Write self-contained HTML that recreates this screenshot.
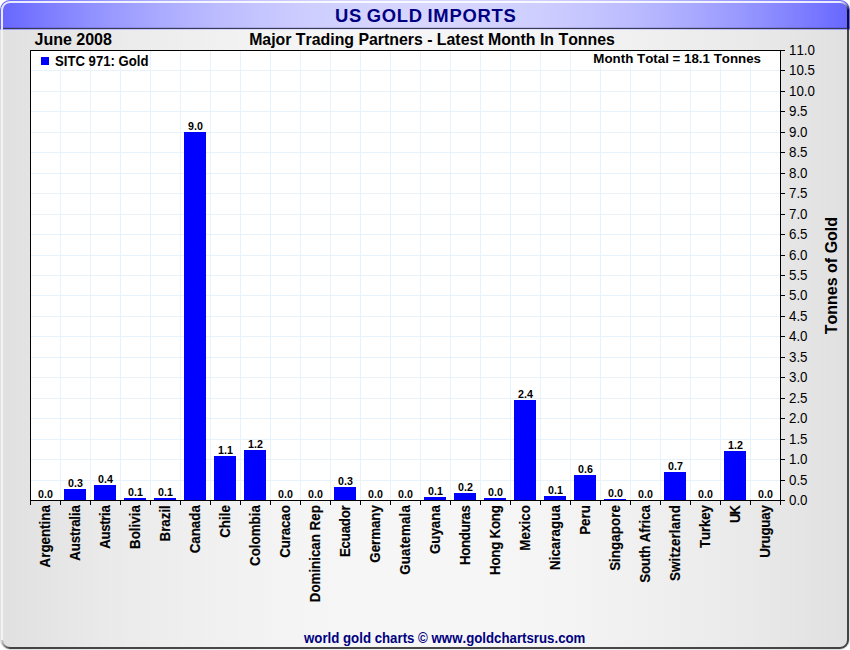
<!DOCTYPE html>
<html><head><meta charset="utf-8"><title>US Gold Imports</title>
<style>
html,body{margin:0;padding:0;background:#fff;}
body{width:850px;height:650px;overflow:hidden;position:relative;font-family:"Liberation Sans",sans-serif;}
#frame{position:absolute;left:0;top:0;width:850px;height:650px;border-radius:10px;overflow:hidden;}
svg{position:absolute;left:0;top:0;}
text{font-family:"Liberation Sans",sans-serif;font-kerning:none;}
.b{font-weight:bold;}
</style></head><body>
<div id="frame">
<svg width="850" height="650" viewBox="0 0 850 650">
<defs>
<linearGradient id="gbg" x1="0" y1="0" x2="1" y2="0"><stop offset="0" stop-color="#e0e0e0"/><stop offset="0.0625" stop-color="#e5e5e5"/><stop offset="0.125" stop-color="#eaeaea"/><stop offset="0.1875" stop-color="#ededed"/><stop offset="0.25" stop-color="#f0f0f0"/><stop offset="0.3125" stop-color="#f3f3f3"/><stop offset="0.375" stop-color="#f5f5f5"/><stop offset="0.4375" stop-color="#f6f6f6"/><stop offset="0.5" stop-color="#f6f6f6"/><stop offset="0.5625" stop-color="#f6f6f6"/><stop offset="0.625" stop-color="#f5f5f5"/><stop offset="0.6875" stop-color="#f3f3f3"/><stop offset="0.75" stop-color="#f0f0f0"/><stop offset="0.8125" stop-color="#ededed"/><stop offset="0.875" stop-color="#eaeaea"/><stop offset="0.9375" stop-color="#e5e5e5"/><stop offset="1" stop-color="#e0e0e0"/></linearGradient>
<linearGradient id="gti" x1="0" y1="0" x2="1" y2="0"><stop offset="0" stop-color="#6666ff"/><stop offset="0.0625" stop-color="#8080ff"/><stop offset="0.125" stop-color="#9797ff"/><stop offset="0.1875" stop-color="#aaaaff"/><stop offset="0.25" stop-color="#babaff"/><stop offset="0.3125" stop-color="#c6c6ff"/><stop offset="0.375" stop-color="#cfcfff"/><stop offset="0.4375" stop-color="#d4d4ff"/><stop offset="0.5" stop-color="#d6d6ff"/><stop offset="0.5625" stop-color="#d4d4ff"/><stop offset="0.625" stop-color="#cfcfff"/><stop offset="0.6875" stop-color="#c6c6ff"/><stop offset="0.75" stop-color="#babaff"/><stop offset="0.8125" stop-color="#aaaaff"/><stop offset="0.875" stop-color="#9797ff"/><stop offset="0.9375" stop-color="#8080ff"/><stop offset="1" stop-color="#6666ff"/></linearGradient>
<linearGradient id="gtr" gradientUnits="userSpaceOnUse" x1="840" y1="2" x2="848" y2="10"><stop offset="0" stop-color="#ffffff" stop-opacity="0.86"/><stop offset="0.45" stop-color="#c0c0c0" stop-opacity="0.75"/><stop offset="1" stop-color="#00000c" stop-opacity="0.86"/></linearGradient>
<linearGradient id="gbl" gradientUnits="userSpaceOnUse" x1="2" y1="640" x2="10" y2="648"><stop offset="0" stop-color="#000000" stop-opacity="0.08"/><stop offset="1" stop-color="#000000" stop-opacity="0.7"/></linearGradient>
</defs>
<rect x="0" y="0" width="850" height="650" fill="url(#gbg)"/>
<rect x="0" y="0" width="850" height="30" fill="url(#gti)"/>
<rect x="3" y="28" width="844" height="1" fill="#3a3a50"/>
<rect x="0" y="27" width="850" height="1" fill="#000040" fill-opacity="0.12"/>
<rect x="0" y="29" width="850" height="1" fill="#ffffff" fill-opacity="0.35"/>
<rect x="30" y="50" width="751" height="451" fill="#ffffff"/>
<g fill="#e8f2fa" shape-rendering="crispEdges"><rect x="31" y="480" width="749" height="1"/><rect x="31" y="459" width="749" height="1"/><rect x="31" y="439" width="749" height="1"/><rect x="31" y="418" width="749" height="1"/><rect x="31" y="398" width="749" height="1"/><rect x="31" y="377" width="749" height="1"/><rect x="31" y="357" width="749" height="1"/><rect x="31" y="336" width="749" height="1"/><rect x="31" y="316" width="749" height="1"/><rect x="31" y="295" width="749" height="1"/><rect x="31" y="275" width="749" height="1"/><rect x="31" y="255" width="749" height="1"/><rect x="31" y="234" width="749" height="1"/><rect x="31" y="214" width="749" height="1"/><rect x="31" y="193" width="749" height="1"/><rect x="31" y="173" width="749" height="1"/><rect x="31" y="152" width="749" height="1"/><rect x="31" y="132" width="749" height="1"/><rect x="31" y="111" width="749" height="1"/><rect x="31" y="91" width="749" height="1"/><rect x="31" y="70" width="749" height="1"/><rect x="60" y="51" width="1" height="449"/><rect x="90" y="51" width="1" height="449"/><rect x="120" y="51" width="1" height="449"/><rect x="150" y="51" width="1" height="449"/><rect x="180" y="51" width="1" height="449"/><rect x="210" y="51" width="1" height="449"/><rect x="240" y="51" width="1" height="449"/><rect x="270" y="51" width="1" height="449"/><rect x="300" y="51" width="1" height="449"/><rect x="330" y="51" width="1" height="449"/><rect x="360" y="51" width="1" height="449"/><rect x="390" y="51" width="1" height="449"/><rect x="420" y="51" width="1" height="449"/><rect x="450" y="51" width="1" height="449"/><rect x="480" y="51" width="1" height="449"/><rect x="510" y="51" width="1" height="449"/><rect x="540" y="51" width="1" height="449"/><rect x="570" y="51" width="1" height="449"/><rect x="600" y="51" width="1" height="449"/><rect x="630" y="51" width="1" height="449"/><rect x="660" y="51" width="1" height="449"/><rect x="690" y="51" width="1" height="449"/><rect x="720" y="51" width="1" height="449"/><rect x="750" y="51" width="1" height="449"/></g>
<g fill="#0000ff" shape-rendering="crispEdges"><rect x="64" y="489" width="22" height="11"/><rect x="94" y="485" width="22" height="15"/><rect x="124" y="498" width="22" height="2"/><rect x="154" y="498" width="22" height="2"/><rect x="184" y="132" width="22" height="368"/><rect x="214" y="456" width="22" height="44"/><rect x="244" y="450" width="22" height="50"/><rect x="334" y="487" width="22" height="13"/><rect x="424" y="497" width="22" height="3"/><rect x="454" y="493" width="22" height="7"/><rect x="484" y="498" width="22" height="2"/><rect x="514" y="400" width="22" height="100"/><rect x="544" y="496" width="22" height="4"/><rect x="574" y="475" width="22" height="25"/><rect x="604" y="499" width="22" height="1"/><rect x="664" y="472" width="22" height="28"/><rect x="724" y="451" width="22" height="49"/></g>
<g fill="#000000" shape-rendering="crispEdges"><rect x="30" y="50" width="751" height="1"/><rect x="30" y="50" width="1" height="451"/><rect x="780" y="50" width="1" height="451"/><rect x="30" y="500" width="751" height="1"/><rect x="30" y="501" width="1" height="4"/><rect x="60" y="501" width="1" height="4"/><rect x="90" y="501" width="1" height="4"/><rect x="120" y="501" width="1" height="4"/><rect x="150" y="501" width="1" height="4"/><rect x="180" y="501" width="1" height="4"/><rect x="210" y="501" width="1" height="4"/><rect x="240" y="501" width="1" height="4"/><rect x="270" y="501" width="1" height="4"/><rect x="300" y="501" width="1" height="4"/><rect x="330" y="501" width="1" height="4"/><rect x="360" y="501" width="1" height="4"/><rect x="390" y="501" width="1" height="4"/><rect x="420" y="501" width="1" height="4"/><rect x="450" y="501" width="1" height="4"/><rect x="480" y="501" width="1" height="4"/><rect x="510" y="501" width="1" height="4"/><rect x="540" y="501" width="1" height="4"/><rect x="570" y="501" width="1" height="4"/><rect x="600" y="501" width="1" height="4"/><rect x="630" y="501" width="1" height="4"/><rect x="660" y="501" width="1" height="4"/><rect x="690" y="501" width="1" height="4"/><rect x="720" y="501" width="1" height="4"/><rect x="750" y="501" width="1" height="4"/><rect x="780" y="501" width="1" height="4"/><rect x="781" y="500" width="4" height="1"/><rect x="781" y="480" width="4" height="1"/><rect x="781" y="459" width="4" height="1"/><rect x="781" y="439" width="4" height="1"/><rect x="781" y="418" width="4" height="1"/><rect x="781" y="398" width="4" height="1"/><rect x="781" y="377" width="4" height="1"/><rect x="781" y="357" width="4" height="1"/><rect x="781" y="336" width="4" height="1"/><rect x="781" y="316" width="4" height="1"/><rect x="781" y="295" width="4" height="1"/><rect x="781" y="275" width="4" height="1"/><rect x="781" y="255" width="4" height="1"/><rect x="781" y="234" width="4" height="1"/><rect x="781" y="214" width="4" height="1"/><rect x="781" y="193" width="4" height="1"/><rect x="781" y="173" width="4" height="1"/><rect x="781" y="152" width="4" height="1"/><rect x="781" y="132" width="4" height="1"/><rect x="781" y="111" width="4" height="1"/><rect x="781" y="91" width="4" height="1"/><rect x="781" y="70" width="4" height="1"/><rect x="781" y="50" width="4" height="1"/></g>
<g font-size="13.33" fill="#000000"><text transform="translate(789,505.1) scale(1,1.07)">0.0</text><text transform="translate(789,485.1) scale(1,1.07)">0.5</text><text transform="translate(789,464.1) scale(1,1.07)">1.0</text><text transform="translate(789,444.1) scale(1,1.07)">1.5</text><text transform="translate(789,423.1) scale(1,1.07)">2.0</text><text transform="translate(789,403.1) scale(1,1.07)">2.5</text><text transform="translate(789,382.1) scale(1,1.07)">3.0</text><text transform="translate(789,362.1) scale(1,1.07)">3.5</text><text transform="translate(789,341.1) scale(1,1.07)">4.0</text><text transform="translate(789,321.1) scale(1,1.07)">4.5</text><text transform="translate(789,300.1) scale(1,1.07)">5.0</text><text transform="translate(789,280.1) scale(1,1.07)">5.5</text><text transform="translate(789,260.1) scale(1,1.07)">6.0</text><text transform="translate(789,239.1) scale(1,1.07)">6.5</text><text transform="translate(789,219.1) scale(1,1.07)">7.0</text><text transform="translate(789,198.1) scale(1,1.07)">7.5</text><text transform="translate(789,178.1) scale(1,1.07)">8.0</text><text transform="translate(789,157.1) scale(1,1.07)">8.5</text><text transform="translate(789,137.1) scale(1,1.07)">9.0</text><text transform="translate(789,116.1) scale(1,1.07)">9.5</text><text transform="translate(789,96.1) scale(1,1.07)">10.0</text><text transform="translate(789,75.1) scale(1,1.07)">10.5</text><text transform="translate(789,55.1) scale(1,1.07)">11.0</text></g>
<g class="b" font-size="10.67" fill="#000000" text-anchor="middle"><text x="45.5" y="498">0.0</text><text x="75.5" y="487">0.3</text><text x="105.5" y="483">0.4</text><text x="135.5" y="496">0.1</text><text x="165.5" y="496">0.1</text><text x="195.5" y="130">9.0</text><text x="225.5" y="454">1.1</text><text x="255.5" y="448">1.2</text><text x="285.5" y="498">0.0</text><text x="315.5" y="498">0.0</text><text x="345.5" y="485">0.3</text><text x="375.5" y="498">0.0</text><text x="405.5" y="498">0.0</text><text x="435.5" y="495">0.1</text><text x="465.5" y="491">0.2</text><text x="495.5" y="496">0.0</text><text x="525.5" y="398">2.4</text><text x="555.5" y="494">0.1</text><text x="585.5" y="473">0.6</text><text x="615.5" y="497">0.0</text><text x="645.5" y="498">0.0</text><text x="675.5" y="470">0.7</text><text x="705.5" y="498">0.0</text><text x="735.5" y="449">1.2</text><text x="765.5" y="498">0.0</text></g>
<g class="b" font-size="13.33" fill="#000000" stroke="#000000" stroke-width="0.15" text-anchor="end"><text transform="translate(50.2,505.2) rotate(-90) scale(1,1.06)" textLength="62.21" lengthAdjust="spacing">Argentina</text><text transform="translate(80.2,505.2) rotate(-90) scale(1,1.06)" textLength="55.54" lengthAdjust="spacing">Australia</text><text transform="translate(110.2,505.2) rotate(-90) scale(1,1.06)" textLength="43.63" lengthAdjust="spacing">Austria</text><text transform="translate(140.2,505.2) rotate(-90) scale(1,1.06)" textLength="43.71" lengthAdjust="spacing">Bolivia</text><text transform="translate(170.2,505.2) rotate(-90) scale(1,1.06)" textLength="36.30" lengthAdjust="spacing">Brazil</text><text transform="translate(200.2,505.2) rotate(-90) scale(1,1.06)" textLength="48.15" lengthAdjust="spacing">Canada</text><text transform="translate(230.2,505.2) rotate(-90) scale(1,1.06)" textLength="32.59" lengthAdjust="spacing">Chile</text><text transform="translate(260.2,505.2) rotate(-90) scale(1,1.06)" textLength="60.73" lengthAdjust="spacing">Colombia</text><text transform="translate(290.2,505.2) rotate(-90) scale(1,1.06)" textLength="52.64" lengthAdjust="spacing">Curacao</text><text transform="translate(320.2,505.2) rotate(-90) scale(1,1.06)" textLength="97.03" lengthAdjust="spacing">Dominican Rep</text><text transform="translate(350.2,505.2) rotate(-90) scale(1,1.06)" textLength="51.93" lengthAdjust="spacing">Ecuador</text><text transform="translate(380.2,505.2) rotate(-90) scale(1,1.06)" textLength="57.44" lengthAdjust="spacing">Germany</text><text transform="translate(410.2,505.2) rotate(-90) scale(1,1.06)" textLength="69.56" lengthAdjust="spacing">Guatemala</text><text transform="translate(440.2,505.2) rotate(-90) scale(1,1.06)" textLength="48.89" lengthAdjust="spacing">Guyana</text><text transform="translate(470.2,505.2) rotate(-90) scale(1,1.06)" textLength="59.91" lengthAdjust="spacing">Honduras</text><text transform="translate(500.2,505.2) rotate(-90) scale(1,1.06)" textLength="69.71" lengthAdjust="spacing">Hong Kong</text><text transform="translate(530.2,505.2) rotate(-90) scale(1,1.06)" textLength="45.54" lengthAdjust="spacing">Mexico</text><text transform="translate(560.2,505.2) rotate(-90) scale(1,1.06)" textLength="64.81" lengthAdjust="spacing">Nicaragua</text><text transform="translate(590.2,505.2) rotate(-90) scale(1,1.06)" textLength="29.63" lengthAdjust="spacing">Peru</text><text transform="translate(620.2,505.2) rotate(-90) scale(1,1.06)" textLength="65.68" lengthAdjust="spacing">Singapore</text><text transform="translate(650.2,505.2) rotate(-90) scale(1,1.06)" textLength="77.44" lengthAdjust="spacing">South Africa</text><text transform="translate(680.2,505.2) rotate(-90) scale(1,1.06)" textLength="75.87" lengthAdjust="spacing">Switzerland</text><text transform="translate(710.2,505.2) rotate(-90) scale(1,1.06)" textLength="42.81" lengthAdjust="spacing">Turkey</text><text transform="translate(740.2,505.2) rotate(-90) scale(1,1.06)" textLength="17.85" lengthAdjust="spacing">UK</text><text transform="translate(770.2,505.2) rotate(-90) scale(1,1.06)" textLength="52.67" lengthAdjust="spacing">Uruguay</text></g>
<rect x="41" y="57" width="8" height="8" fill="#0000ff" shape-rendering="crispEdges"/>
<text class="b" transform="translate(55,66.2) scale(1,1.05)" font-size="13.15">SITC 971: Gold</text>
<text class="b" transform="translate(761,62.5) scale(1,1.02)" font-size="13.33" text-anchor="end">Month Total = 18.1 Tonnes</text>
<text class="b" x="334.9" y="22.2" font-size="18.4" letter-spacing="0.74" word-spacing="-1.1" fill="#000080">US GOLD IMPORTS</text>
<text class="b" x="34.5" y="44.6" font-size="16">June 2008</text>
<text class="b" x="432" y="44.8" font-size="15.87" text-anchor="middle">Major Trading Partners - Latest Month In Tonnes</text>
<text class="b" transform="translate(837,275.6) rotate(-90)" font-size="16" text-anchor="middle">Tonnes of Gold</text>
<text class="b" transform="translate(444.7,642.6) scale(1,1.07)" font-size="13.26" fill="#000080" text-anchor="middle">world gold charts © www.goldchartsrus.com</text>
<g fill="none" stroke-width="2">
<path d="M2,640 L2,29" stroke="#ffffff" stroke-opacity="0.62"/>
<path d="M2,29 L2,10 A8,8 0 0 1 10,2 L840,2" stroke="#ffffff" stroke-opacity="0.86"/>
<path d="M840,2 A8,8 0 0 1 848,10" stroke="url(#gtr)"/>
<path d="M848,10 L848,28" stroke="#00000c" stroke-opacity="0.86"/>
<path d="M848,28 L848,640 A8,8 0 0 1 840,648 L10,648" stroke="#000000" stroke-opacity="0.7"/>
<path d="M10,648 A8,8 0 0 1 2,640" stroke="url(#gbl)"/>
</g>
</svg>
</div>
</body></html>
